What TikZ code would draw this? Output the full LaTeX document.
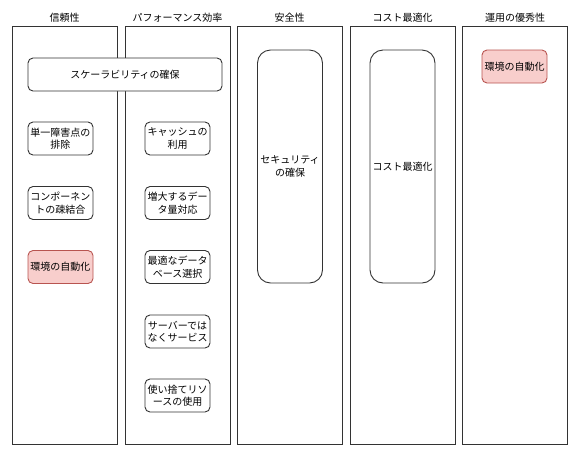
\documentclass[tikz,border=0pt]{standalone}
\usepackage{fontspec}
\setmainfont{Noto Sans CJK JP}
\definecolor{pinkfill}{HTML}{F8CECC}
\definecolor{pinkline}{HTML}{B85450}
\begin{document}
\begin{tikzpicture}[
    x=1pt, y=-1pt,
    lane/.style={draw=black!80, line width=0.9pt, minimum width=105pt, minimum height=418pt, inner sep=0pt},
    title/.style={font=\fontsize{10}{12}\selectfont},
    item/.style={draw=black!80, line width=0.9pt, rounded corners=5pt, minimum width=65pt, minimum height=33pt, inner sep=1pt, align=center, font=\fontsize{10}{12.5}\selectfont},
    tall/.style={item, rounded corners=13pt, minimum height=233pt},
    hot/.style={item, fill=pinkfill, draw=pinkline}
]
    \useasboundingbox (0,0) rectangle (586,459);

    % columns
    \node[lane] (rel) at (64.5, 235) {};
    \node[lane] (perf) at (177.5, 235) {};
    \node[lane] (sec) at (289.5, 235) {};
    \node[lane] (cost) at (402.5, 235) {};
    \node[lane] (ops) at (515, 235) {};

    \node[title] (relT) at (64.5, 18) {信頼性};
    \node[title] (perfT) at (177.5, 18) {パフォーマンス効率};
    \node[title] (secT) at (289.5, 18) {安全性};
    \node[title] (costT) at (402.5, 18) {コスト最適化};
    \node[title] (opsT) at (515, 18) {運用の優秀性};

    % shared item
    \node[item, fill=white, minimum width=194pt] (scale) at (125, 74.5) {スケーラビリティの確保};

    % reliability
    \node[item] (spof) at (60.5, 138.5) {単一障害点の\\排除};
    \node[item] (loose) at (60.5, 203) {コンポーネン\\トの疎結合};
    \node[hot] (auto1) at (60.5, 267) {環境の自動化};

    % performance
    \node[item] (cache) at (177.5, 138.5) {キャッシュの\\利用};
    \node[item] (data) at (177.5, 203) {増大するデー\\タ量対応};
    \node[item] (db) at (177.5, 267) {最適なデータ\\ベース選択};
    \node[item] (svc) at (177.5, 331.5) {サーバーでは\\なくサービス};
    \node[item] (disp) at (177.5, 395.5) {使い捨てリソ\\ースの使用};

    % security, cost
    \node[tall] (secure) at (290, 166.5) {セキュリティ\\の確保};
    \node[tall] (costopt) at (402.5, 166.5) {コスト最適化};

    % operations
    \node[hot] (auto2) at (514.5, 66.5) {環境の自動化};
\end{tikzpicture}
\end{document}
